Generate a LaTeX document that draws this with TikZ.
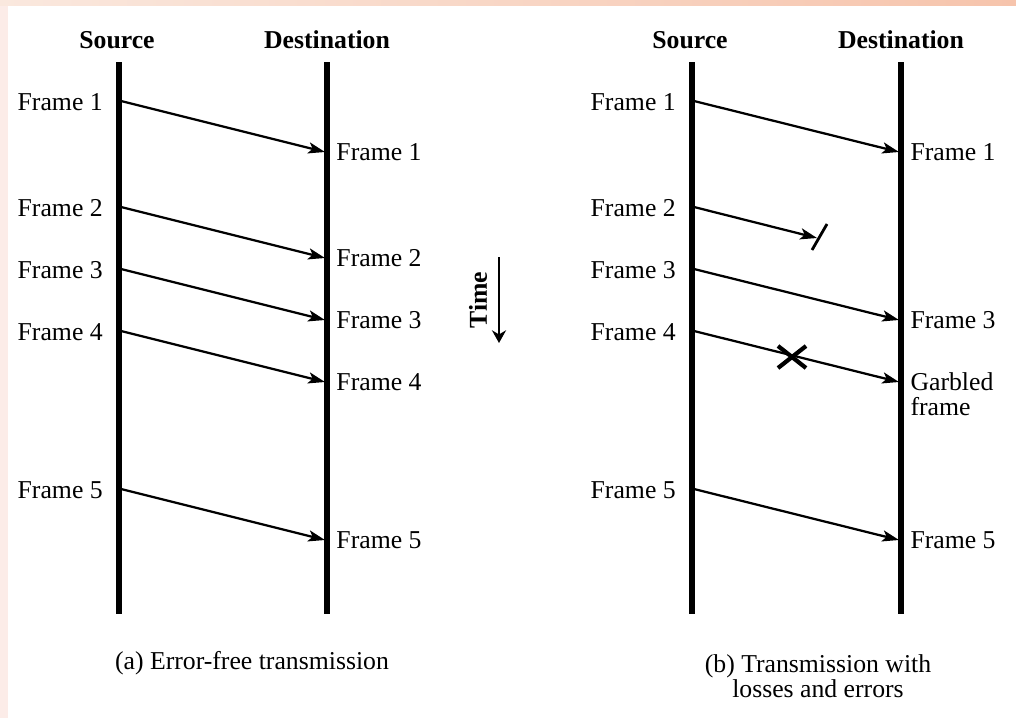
\documentclass[tikz,border=0pt]{standalone}
\usepackage{fontspec}
\setmainfont{Liberation Serif}
\usetikzlibrary{arrows.meta}
\usetikzlibrary{positioning}

\definecolor{edgepink}{RGB}{252,236,232}
\definecolor{edgepeach}{RGB}{250,232,222}
\definecolor{edgesalmon}{RGB}{246,196,172}

\tikzset{
	lbl/.style={inner sep=0pt, font=\fontsize{18.3}{17.8}\selectfont},
	head/.style={inner sep=0pt, font=\fontsize{18.3}{17.8}\selectfont\bfseries},
	wire/.style={line width=3.6pt},
	msg/.style={line width=1.6pt, -{Stealth[length=12pt, width=8pt, inset=3pt]}},
}

\newcommand{\txframe}[4] % panel, frame number, source x, y (px)
{
	\node[lbl, anchor=east] (#1out#2) at (#3-16,#4+1) {Frame #2};
	\coordinate (#1tx#2) at (#3+2,#4);
}
\newcommand{\rxframe}[4] % panel, frame number, destination x, y (px)
{
	\coordinate (#1rx#2) at (#3-2,#4);
	\draw[msg] (#1tx#2) -- (#1rx#2);
	\node[lbl, anchor=west, right=0.28cm of #1rx#2] (#1in#2) {Frame #2};
}

\begin{document}
\begin{tikzpicture}[x=0.025cm, y=-0.025cm]
	% page: 1016 x 718 px, 1px = 0.025cm
	\useasboundingbox (0,0) rectangle (1016,718);
	\fill[edgepink] (0,0) rectangle (8,718);
	\shade[left color=edgepeach, right color=edgesalmon] (0,0) rectangle (1016,5);

	% (a) error-free
	\node[head] (asrc) at (117,40) {Source};
	\node[head] (adst) at (327,40) {Destination};
	\draw[wire] (119,62) -- (119,614);
	\draw[wire] (327,62) -- (327,614);

	\txframe{a}{1}{119}{101};
	\txframe{a}{2}{119}{207};
	\txframe{a}{3}{119}{269};
	\txframe{a}{4}{119}{331};
	\txframe{a}{5}{119}{489};

	\rxframe{a}{1}{327}{152};
	\rxframe{a}{2}{327}{258};
	\rxframe{a}{3}{327}{320};
	\rxframe{a}{4}{327}{382};
	\rxframe{a}{5}{327}{540};

	\node[lbl] (acap) at (252,663) {(a) Error-free transmission};

	% time axis
	\node[head, rotate=90] (time) at (478,300) {Time};
	\coordinate (ttop) at (499,257);
	\coordinate (tbot) at (499,343);
	\draw[line width=2pt, -{Stealth[length=9pt, width=10pt]}] (ttop) -- (tbot);

	% (b) losses and errors
	\node[head] (bsrc) at (690,40) {Source};
	\node[head] (bdst) at (901,40) {Destination};
	\draw[wire] (692,62) -- (692,614);
	\draw[wire] (901,62) -- (901,614);

	\txframe{b}{1}{692}{101};
	\txframe{b}{2}{692}{207};
	\txframe{b}{3}{692}{269};
	\txframe{b}{4}{692}{331};
	\txframe{b}{5}{692}{489};

	\rxframe{b}{1}{901}{152};
	\rxframe{b}{3}{901}{320};
	\rxframe{b}{5}{901}{540};

	% frame 2 lost
	\coordinate (brx2) at (817,238);
	\draw[msg] (btx2) -- (brx2);
	\coordinate (bcut1) at (812,250);
	\coordinate (bcut2) at (827,224);
	\draw[line width=2pt] (bcut1) -- (bcut2);

	% frame 4 garbled
	\coordinate (brx4) at (899,382);
	\draw[msg] (btx4) -- (brx4);
	\draw[line width=3pt] (778,346) -- (806,368);
	\draw[line width=3pt] (778,368) -- (806,346);
	\node[lbl, anchor=west, right=0.28cm of brx4] (bin4) {Garbled};
	\node[lbl, anchor=base west] (bin4b) at ([yshift=-0.625cm]bin4.base west) {frame};

	\node[lbl, align=center] (bcap) at (818,676) {(b) Transmission with\\losses and errors};
\end{tikzpicture}
\end{document}
